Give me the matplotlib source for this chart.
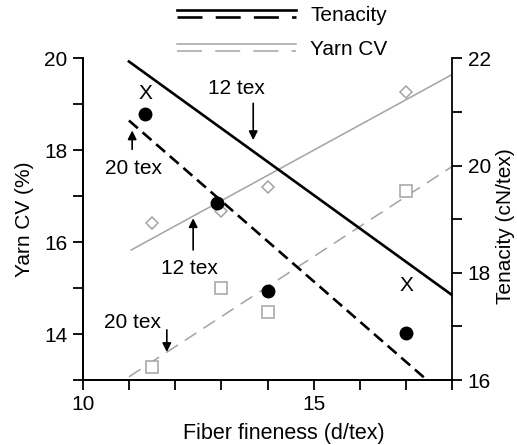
import matplotlib
matplotlib.use('Agg')
import matplotlib.pyplot as plt
from matplotlib.lines import Line2D
from matplotlib.legend_handler import HandlerBase
from matplotlib.ticker import MultipleLocator

plt.rcParams['font.family'] = ['Liberation Sans', 'DejaVu Sans']
plt.rcParams['font.size'] = 15
plt.rcParams['lines.scale_dashes'] = False

# tenacity (right axis, cN/tex)
ten20_x = [11.35, 12.9, 14.0, 17.0]
ten20_y = [20.97, 19.30, 17.66, 16.88]
ten12_x = [11.35, 17.0]
ten12_y = [21.35, 17.77]
ten12_fit_x = [11.0, 18.0]
ten12_fit_y = [21.94, 17.58]
ten20_fit_x = [11.0, 17.45]
ten20_fit_y = [20.84, 16.0]

# yarn CV (left axis, %)
cv_x = [11.5, 13.0, 14.0, 17.0]
cv12_y = [16.41, 16.67, 17.20, 19.26]
cv20_y = [13.28, 15.00, 14.48, 17.11]
cv12_fit_x = [11.05, 18.0]
cv12_fit_y = [15.83, 19.65]
cv20_fit_x = [11.0, 18.0]
cv20_fit_y = [13.07, 17.65]

gray = '#a3a3a3'
blk_dash = (0, (8.5, 4.5))
gry_dash = (0, (10, 6))


class TwoLines(HandlerBase):
    # solid line on top, long-dashed line below
    def create_artists(self, legend, orig_handle, xdescent, ydescent,
                       width, height, fontsize, trans):
        color, lw = orig_handle
        mid = height / 2 - ydescent
        out = []
        for ls, dy in (('-', 2.6), ((0, (18, 9.5)), -2.6)):
            l = Line2D([-xdescent, width - xdescent], [mid + dy, mid + dy],
                       color=color, lw=lw, linestyle=ls)
            l.set_transform(trans)
            out.append(l)
        return out


fig = plt.figure(figsize=(5.17, 4.45), dpi=100)
ax = fig.add_axes([0.16, 0.146, 0.715, 0.723])
ax2 = ax.twinx()

ax.plot(cv12_fit_x, cv12_fit_y, color=gray, lw=1.1)
ax.plot(cv20_fit_x, cv20_fit_y, color=gray, lw=1.1, linestyle=gry_dash)
ax.plot(cv_x, cv12_y, linestyle='none', marker='D', ms=6.5, mfc='white',
        mec=gray, mew=1.1)
ax.plot(cv_x, cv20_y, linestyle='none', marker='s', ms=8, mfc='white',
        mec=gray, mew=1.1)

ax2.plot(ten12_fit_x, ten12_fit_y, color='black', lw=1.9)
ax2.plot(ten20_fit_x, ten20_fit_y, color='black', lw=1.9, linestyle=blk_dash)
ax2.plot(ten20_x, ten20_y, linestyle='none', marker='o', ms=9, color='black')
for x, y in zip(ten12_x, ten12_y):
    ax2.text(x, y, 'X', ha='center', va='center', fontsize=15)

ax.set_xlim(10, 18)
ax.set_ylim(13, 20)
ax2.set_ylim(16, 22)

ax.xaxis.set_major_locator(MultipleLocator(5))
ax.xaxis.set_minor_locator(MultipleLocator(1))
ax.yaxis.set_major_locator(MultipleLocator(2))
ax.yaxis.set_minor_locator(MultipleLocator(1))
ax2.yaxis.set_major_locator(MultipleLocator(2))
ax2.yaxis.set_minor_locator(MultipleLocator(1))

for a in (ax, ax2):
    a.spines['top'].set_visible(False)
    for s in a.spines.values():
        s.set_linewidth(1.3)
    a.tick_params(which='both', direction='out', length=7, width=1.3,
                  labelsize=15, pad=4)
ax.spines['right'].set_visible(False)

ax.set_xlabel('Fiber fineness (d/tex)', fontsize=15.5, labelpad=6)
ax.xaxis.label.set_x(0.543)
ax.set_ylabel('Yarn CV (%)', fontsize=15, labelpad=7)
ax2.set_ylabel('Tenacity (cN/tex)', fontsize=15, labelpad=4)
ax2.yaxis.label.set_y(0.477)

# annotations: (text x, text y, arrow x, tail y, tip y), left-axis data units
notes = [
    ('12 tex', 13.32, 19.35, 13.69, 19.02, 18.22),
    ('20 tex', 11.09, 17.61, 11.07, 18.02, 18.43),
    ('12 tex', 12.32, 15.43, 12.39, 15.83, 16.52),
    ('20 tex', 11.07, 14.26, 11.82, 14.09, 13.61),
]
for label, tx, ty, axx, tail, tip in notes:
    ax.text(tx, ty, label, ha='center', va='center', fontsize=15)
    ax.annotate('', xy=(axx, tip), xytext=(axx, tail),
                arrowprops=dict(arrowstyle='-|>', color='black', lw=1.2,
                                mutation_scale=13, shrinkA=0, shrinkB=0))

fig.legend([('black', 1.9), (gray, 1.1)], ['Tenacity', 'Yarn CV'],
           handler_map={tuple: TwoLines()},
           loc='upper left', bbox_to_anchor=(177 / 517, 1 - 6 / 445),
           frameon=False, borderpad=0, borderaxespad=0, handlelength=5.7,
           handletextpad=0.7, labelspacing=0.7, fontsize=15)

fig.savefig('out.png', dpi=100)
